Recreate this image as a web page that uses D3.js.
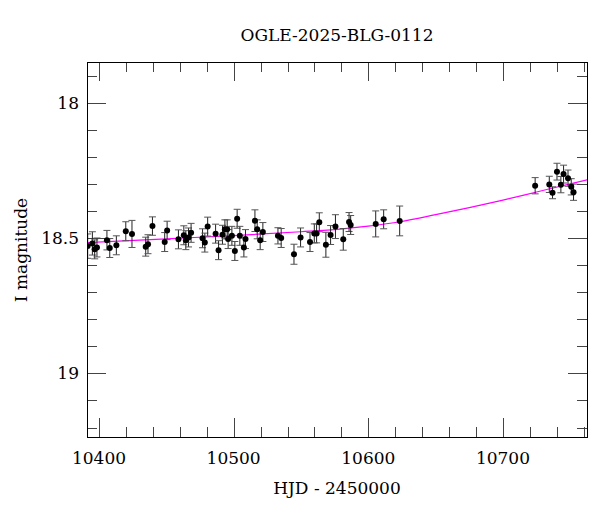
<!DOCTYPE html>
<html>
<head>
<meta charset="utf-8">
<script src="https://cdn.jsdelivr.net/npm/d3@7"></script>
<style>
  body { margin: 0; background: #fff; }
  text { font-family: "DejaVu Serif", serif; fill: #000; }
</style>
</head>
<body>
<div id="chart"></div>
<script>
var svgWidth = 600;
var svgHeight = 512;

var margin = { top: 62, right: 13, bottom: 75, left: 87 };
var width = svgWidth - margin.left - margin.right;
var height = svgHeight - margin.top - margin.bottom;

// OGLE photometry: HJD - 2450000, I mag, error
var hjd = [10391.6, 10395.1, 10396.8, 10398.5, 10405.9, 10408.0, 10412.9, 10419.9, 10424.5, 10434.7,
    10436.4, 10439.7, 10448.8, 10450.6, 10459.0, 10463.0, 10464.5, 10466.5, 10468.4, 10476.9,
    10478.6, 10480.7, 10486.6, 10488.8, 10491.7, 10493.5, 10495.2, 10495.9, 10498.7, 10500.9,
    10502.6, 10504.6, 10507.6, 10508.8, 10515.8, 10517.5, 10519.7, 10521.7, 10532.9, 10535.3,
    10544.8, 10549.7, 10556.7, 10559.9, 10561.6, 10563.6, 10568.5, 10572.0, 10575.6, 10581.4,
    10585.7, 10586.9, 10605.5, 10611.4, 10623.3, 10723.9, 10734.4, 10736.8, 10740.1, 10743.0,
    10745.0, 10748.3, 10750.7, 10752.4];
var mag = [18.530, 18.520, 18.542, 18.535, 18.508, 18.537, 18.527, 18.475, 18.485, 18.532,
    18.523, 18.456, 18.515, 18.472, 18.505, 18.490, 18.508, 18.498, 18.481, 18.501,
    18.517, 18.458, 18.484, 18.545, 18.488, 18.468, 18.468, 18.504, 18.492, 18.548,
    18.429, 18.492, 18.535, 18.504, 18.436, 18.468, 18.508, 18.478, 18.492, 18.500,
    18.560, 18.498, 18.515, 18.483, 18.483, 18.442, 18.525, 18.489, 18.458, 18.505,
    18.441, 18.452, 18.448, 18.431, 18.437, 18.307, 18.302, 18.333, 18.255, 18.303,
    18.264, 18.279, 18.311, 18.331];
var magErr = [0.045, 0.043, 0.035, 0.035, 0.036, 0.035, 0.035, 0.035, 0.050, 0.035,
    0.035, 0.034, 0.035, 0.034, 0.035, 0.035, 0.035, 0.035, 0.035, 0.035,
    0.035, 0.035, 0.035, 0.035, 0.035, 0.035, 0.035, 0.035, 0.035, 0.035,
    0.035, 0.035, 0.035, 0.035, 0.040, 0.035, 0.035, 0.035, 0.030, 0.035,
    0.037, 0.035, 0.035, 0.035, 0.035, 0.035, 0.046, 0.035, 0.044, 0.040,
    0.035, 0.035, 0.048, 0.035, 0.055, 0.030, 0.030, 0.022, 0.031, 0.030,
    0.033, 0.030, 0.030, 0.030];

// model curve
var modelT = [10391, 10450, 10500, 10550, 10579, 10600, 10623.6, 10650, 10675, 10700, 10725, 10750, 10763];
var modelM = [18.517, 18.503, 18.491, 18.477, 18.467, 18.456, 18.440, 18.414, 18.388, 18.360, 18.330, 18.300, 18.285];

var xMajor = [10400, 10500, 10600, 10700];
var yMajor = [18, 18.5, 19];

var svg = d3.select("#chart")
    .append("svg")
    .attr("width", svgWidth)
    .attr("height", svgHeight);

var chartGroup = svg.append("g")
    .attr("transform", `translate(${margin.left}, ${margin.top})`);

var x = d3.scaleLinear().domain([10391.1, 10762.4]).range([0, width]);
var y = d3.scaleLinear().domain([17.85, 19.235]).range([0, height]);

// clip for data
svg.append("defs").append("clipPath").attr("id", "clip")
    .append("rect").attr("width", width).attr("height", height);

// ticks on all four sides, pointing inward
var xMinor = d3.range(10400, 10761, 20);
var yMinor = d3.range(17.9, 19.25, 0.1);

function isMajor(v, list) {
    return list.some(m => Math.abs(m - v) < 1e-6);
}

var tickG = chartGroup.append("g").attr("stroke", "#444").attr("stroke-width", 1);
xMinor.forEach(function (t) {
    var len = isMajor(t, xMajor) ? 19 : 10;
    var px = Math.round(x(t)) + 0.5;
    tickG.append("line").attr("x1", px).attr("x2", px).attr("y1", height).attr("y2", height - len);
    tickG.append("line").attr("x1", px).attr("x2", px).attr("y1", 0).attr("y2", len);
});
yMinor.forEach(function (t) {
    var len = isMajor(t, yMajor) ? 19 : 10;
    var py = Math.round(y(t)) + 0.5;
    tickG.append("line").attr("x1", 0).attr("x2", len).attr("y1", py).attr("y2", py);
    tickG.append("line").attr("x1", width).attr("x2", width - len).attr("y1", py).attr("y2", py);
});

// model
var line = d3.line()
    .x((d, i) => x(modelT[i]))
    .y((d, i) => y(modelM[i]))
    .curve(d3.curveMonotoneX);

chartGroup.append("path")
    .datum(modelT)
    .attr("clip-path", "url(#clip)")
    .attr("fill", "none")
    .attr("stroke", "#ff00ff")
    .attr("stroke-width", 1.2)
    .attr("d", line);

// error bars + points
var pts = hjd.map((t, i) => ({ t: t, m: mag[i], e: magErr[i] }));
var dataG = chartGroup.append("g").attr("clip-path", "url(#clip)");

var bars = dataG.selectAll("g.err")
    .data(pts)
    .enter()
    .append("g")
    .attr("stroke", "#222")
    .attr("stroke-width", 1);

bars.append("line")
    .attr("x1", d => x(d.t)).attr("x2", d => x(d.t))
    .attr("y1", d => y(d.m - d.e)).attr("y2", d => y(d.m + d.e));
bars.append("line")
    .attr("stroke", "#555")
    .attr("x1", d => x(d.t) - 3.5).attr("x2", d => x(d.t) + 3.5)
    .attr("y1", d => y(d.m - d.e)).attr("y2", d => y(d.m - d.e));
bars.append("line")
    .attr("stroke", "#555")
    .attr("x1", d => x(d.t) - 3.5).attr("x2", d => x(d.t) + 3.5)
    .attr("y1", d => y(d.m + d.e)).attr("y2", d => y(d.m + d.e));

dataG.selectAll("circle")
    .data(pts)
    .enter()
    .append("circle")
    .attr("cx", d => x(d.t))
    .attr("cy", d => y(d.m))
    .attr("r", 3)
    .attr("fill", "#000");

// frame
chartGroup.append("rect")
    .attr("x", 0.5).attr("y", 0.5)
    .attr("width", width).attr("height", height)
    .attr("fill", "none")
    .attr("stroke", "#000")
    .attr("stroke-width", 1);

// tick labels
chartGroup.selectAll("text.xl")
    .data(xMajor)
    .enter()
    .append("text")
    .attr("x", d => x(d))
    .attr("y", height + 27)
    .attr("text-anchor", "middle")
    .attr("font-size", "17px")
    .text(d => d);

chartGroup.selectAll("text.yl")
    .data(yMajor)
    .enter()
    .append("text")
    .attr("x", -8)
    .attr("y", d => y(d))
    .attr("dy", "0.36em")
    .attr("text-anchor", "end")
    .attr("font-size", "17px")
    .text(d => d);

// titles
svg.append("text")
    .attr("x", margin.left + width / 2)
    .attr("y", 41)
    .attr("text-anchor", "middle")
    .attr("font-size", "17px")
    .text("OGLE-2025-BLG-0112");

svg.append("text")
    .attr("x", margin.left + width / 2)
    .attr("y", 494)
    .attr("text-anchor", "middle")
    .attr("font-size", "17px")
    .text("HJD - 2450000");

svg.append("text")
    .attr("transform", `translate(27, ${margin.top + 188}) rotate(-90)`)
    .attr("text-anchor", "middle")
    .attr("font-size", "17px")
    .text("I magnitude");
</script>
</body>
</html>
